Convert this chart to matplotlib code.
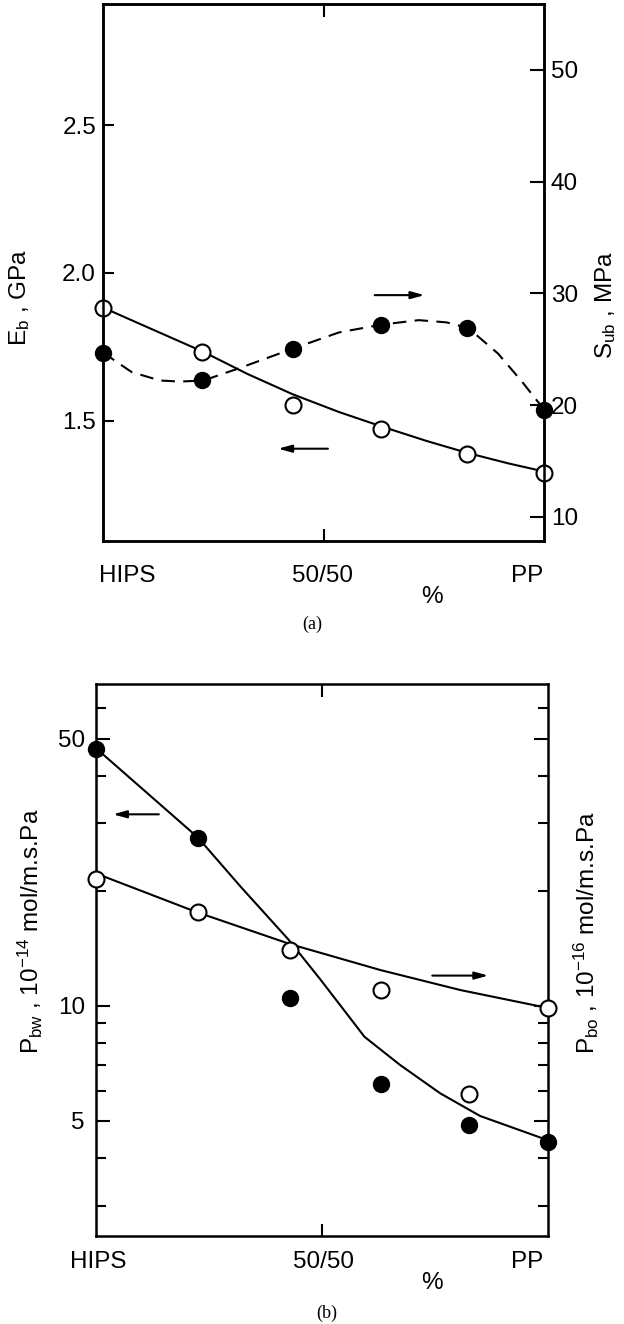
import matplotlib
matplotlib.use("Agg")
import matplotlib.pyplot as plt
from matplotlib.ticker import FixedLocator, NullFormatter, FixedFormatter

plt.rcParams['font.family'] = ['Liberation Sans', 'DejaVu Sans']
plt.rcParams['mathtext.fontset'] = 'custom'
plt.rcParams['mathtext.rm'] = 'Liberation Sans'
plt.rcParams['mathtext.it'] = 'Liberation Sans'
plt.rcParams['mathtext.default'] = 'rm'

# ---------------- data (composition, % PP) ----------------
comp = [0, 22.5, 43, 63, 82.5, 100]
tick_labels_x = ["HIPS", "50/50", "PP"]

# panel (a)
E_b = [1.883, 1.733, 1.555, 1.473, 1.387, 1.323]          # GPa, open circles
S_ub = [24.7, 22.2, 25.0, 27.2, 26.9, 19.6]               # MPa, filled circles
E_fit_x = [0, 10, 22.8, 32.7, 43, 53.5, 63.2, 73.4, 82.8, 92, 100]
E_fit_y = [1.883, 1.817, 1.733, 1.659, 1.590, 1.530, 1.481, 1.432, 1.391, 1.356, 1.329]
S_fit_x = [0, 6.5, 12.9, 17.4, 22.8, 30.9, 42.7, 53.5, 63.2, 71.6, 77.9, 82.8, 89.6, 95, 100]
S_fit_y = [24.7, 22.95, 22.2, 22.1, 22.2, 23.3, 25.0, 26.5, 27.2, 27.6, 27.4, 26.9, 24.6, 22.1, 19.6]
E_ticks = [1.5, 2.0, 2.5]
S_ticks = [10, 20, 30, 40, 50]

# panel (b)
P_bw = [47.0, 27.5, 10.5, 6.24, 4.89, 4.40]               # filled circles
P_bo = [21.5, 17.6, 14.0, 11.0, 5.89, 9.87]               # open circles
Pbw_fit_x = [0, 22.5, 32, 42.6, 49.7, 59.4, 67.3, 76.2, 85, 100]
Pbw_fit_y = [47.2, 27.6, 20.5, 14.9, 11.7, 8.3, 7.0, 5.9, 5.15, 4.45]
Pbo_fit_x = [0, 22.2, 43, 63, 80.6, 100]
Pbo_fit_y = [22.2, 17.6, 14.5, 12.4, 11.0, 9.87]
P_major = [5, 10, 50]
P_minor = [3, 4, 6, 7, 8, 9, 20, 30, 40, 60]

W, H = 624, 1324
fig = plt.figure(figsize=(W / 100, H / 100), dpi=100)


def px(x, y):
    return x / W, 1 - y / H


def axrect(l, t, r, b):
    return [l / W, 1 - b / H, (r - l) / W, (b - t) / H]


LW = 1.5
FS = 17.5

def style(ax):
    for s in ax.spines.values():
        s.set_linewidth(1.8)
    ax.set_xlim(0, 100)
    ax.xaxis.set_major_locator(FixedLocator([50]))
    ax.xaxis.set_major_formatter(NullFormatter())
    ax.tick_params(axis='x', which='major', direction='in', top=True, bottom=True,
                   length=9, width=1.5)


# ================= panel (a) =================
ax1 = fig.add_axes(axrect(103, 4, 544, 541))
style(ax1)
ax1.set_ylim(1.094, 2.909)
ax1.yaxis.set_major_locator(FixedLocator(E_ticks))
ax1.yaxis.set_major_formatter(FixedFormatter(["%.1f" % v for v in E_ticks]))
ax1.tick_params(axis='y', direction='in', length=8, width=1.5, labelsize=FS, pad=5,
                right=False)
ax1r = ax1.twinx()
ax1r.set_ylim(7.83, 55.9)
ax1r.yaxis.set_major_locator(FixedLocator(S_ticks))
ax1r.yaxis.set_major_formatter(FixedFormatter([str(v) for v in S_ticks]))
ax1r.tick_params(axis='y', direction='in', length=10, width=1.5, labelsize=FS, pad=5)
for s in ax1r.spines.values():
    s.set_linewidth(1.8)

ax1.plot(E_fit_x, E_fit_y, color='black', lw=LW, zorder=2)
ax1.plot(comp, E_b, 'o', ms=11.5, mfc='white', mec='black', mew=1.5, clip_on=False, zorder=4)
ax1r.plot(S_fit_x, S_fit_y, color='black', lw=LW, dashes=(6.5, 4), zorder=2)
ax1r.plot(comp, S_ub, 'o', ms=11.5, color='black', clip_on=False, zorder=4)

arrow = dict(arrowstyle='-|>,head_length=0.8,head_width=0.22', lw=LW, color='black',
             shrinkA=0, shrinkB=0)
ax1.annotate('', xy=(72.9, 1.925), xytext=(61.6, 1.925), arrowprops=arrow)
ax1.annotate('', xy=(39.7, 1.406), xytext=(51.0, 1.406), arrowprops=arrow)

fig.text(*px(20, 297), r"E$_\mathrm{b}$ , GPa", rotation=90, ha='center', va='center', fontsize=FS)
fig.text(*px(606, 305), r"S$_\mathrm{ub}$ , MPa", rotation=90, ha='center', va='center', fontsize=FS)
fig.text(*px(99, 576), tick_labels_x[0], ha='left', va='center', fontsize=FS)
fig.text(*px(322, 576), tick_labels_x[1], ha='center', va='center', fontsize=FS)
fig.text(*px(543, 576), tick_labels_x[2], ha='right', va='center', fontsize=FS)
fig.text(*px(432, 597), "%", ha='center', va='center', fontsize=FS)
fig.text(*px(312, 624), "(a)", ha='center', va='center', fontsize=13, family='Liberation Serif')

# ================= panel (b) =================
ax2 = fig.add_axes(axrect(96, 684, 548, 1236))
style(ax2)
ax2.set_yscale('log')
ax2.set_ylim(2.5, 69.5)
ax2.yaxis.set_major_locator(FixedLocator(P_major))
ax2.yaxis.set_major_formatter(FixedFormatter([str(v) for v in P_major]))
ax2.yaxis.set_minor_locator(FixedLocator(P_minor))
ax2.yaxis.set_minor_formatter(NullFormatter())
ax2.tick_params(axis='y', which='major', direction='in', length=10, width=1.5,
                labelsize=FS, pad=8, right=True)
ax2.tick_params(axis='y', which='minor', direction='in', length=7, width=1.5, right=True)

ax2.plot(Pbw_fit_x, Pbw_fit_y, color='black', lw=LW, zorder=2)
ax2.plot(Pbo_fit_x, Pbo_fit_y, color='black', lw=LW, zorder=2)
ax2.plot(comp, P_bw, 'o', ms=11.5, color='black', clip_on=False, zorder=4)
ax2.plot(comp, P_bo, 'o', ms=11.5, mfc='white', mec='black', mew=1.5, clip_on=False, zorder=4)

ax2.annotate('', xy=(3.75, 31.7), xytext=(13.9, 31.7), arrowprops=arrow)
ax2.annotate('', xy=(86.8, 12.0), xytext=(74.4, 12.0), arrowprops=arrow)

fig.text(*px(30, 931), r"P$_\mathrm{bw}$ , 10$^{-14}$ mol/m.s.Pa", rotation=90,
         ha='center', va='center', fontsize=FS)
fig.text(*px(586, 933), r"P$_\mathrm{bo}$ , 10$^{-16}$ mol/m.s.Pa", rotation=90,
         ha='center', va='center', fontsize=FS)
fig.text(*px(70, 1262), tick_labels_x[0], ha='left', va='center', fontsize=FS)
fig.text(*px(323, 1262), tick_labels_x[1], ha='center', va='center', fontsize=FS)
fig.text(*px(543, 1262), tick_labels_x[2], ha='right', va='center', fontsize=FS)
fig.text(*px(432, 1283), "%", ha='center', va='center', fontsize=FS)
fig.text(*px(327, 1313), "(b)", ha='center', va='center', fontsize=13, family='Liberation Serif')

fig.savefig("out.png", dpi=100)
